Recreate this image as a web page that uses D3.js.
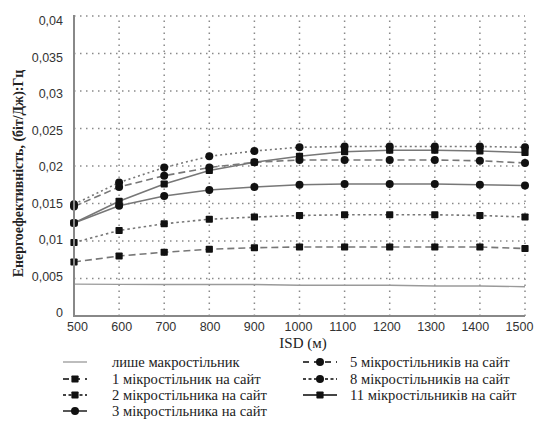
<!DOCTYPE html>
<html>
<head>
<meta charset="utf-8">
<script src="https://cdn.jsdelivr.net/npm/d3@7"></script>
<style>
  body { margin: 0; background: #fff; }
  svg { display: block; }
</style>
</head>
<body>
<div id="chart"></div>
<script>
// data
var isd = [500, 600, 700, 800, 900, 1000, 1100, 1200, 1300, 1400, 1500];
var macroOnly = [0.00425, 0.00423, 0.0042, 0.0042, 0.0042, 0.0041, 0.0041, 0.0041, 0.004, 0.004, 0.0039];
var micro1  = [0.0072, 0.0080, 0.0085, 0.0089, 0.0091, 0.0092, 0.0092, 0.0092, 0.0092, 0.0092, 0.0090];
var micro2  = [0.0098, 0.0114, 0.0123, 0.0129, 0.0132, 0.0134, 0.0135, 0.0135, 0.0135, 0.0134, 0.0132];
var micro3  = [0.0124, 0.0147, 0.0160, 0.0168, 0.0172, 0.0175, 0.0176, 0.0176, 0.0176, 0.0175, 0.0174];
var micro5  = [0.0146, 0.0172, 0.0187, 0.0198, 0.0205, 0.0208, 0.0208, 0.0208, 0.0208, 0.0207, 0.0204];
var micro8  = [0.0149, 0.0178, 0.0198, 0.0213, 0.0220, 0.0225, 0.0226, 0.0226, 0.0226, 0.0226, 0.0225];
var micro11 = [0.0124, 0.0153, 0.0176, 0.0194, 0.0205, 0.0213, 0.0219, 0.0221, 0.0221, 0.0220, 0.0218];

var yTicks = [0, 0.005, 0.01, 0.015, 0.02, 0.025, 0.03, 0.035, 0.04];
var yTickLabels = ["0", "0,005", "0,01", "0,015", "0,02", "0,025", "0,03", "0,035", "0,04"];

var seriesNames = ["лише макростільник", "1 мікростільник на сайт", "2 мікростільника на сайт",
  "3 мікростільника на сайт", "5 мікростільників на сайт", "8 мікростільників на сайт",
  "11 мікростільників на сайт"];
var seriesValues = [macroOnly, micro1, micro2, micro3, micro5, micro8, micro11];
var seriesMarker = ["none", "square", "square", "circle", "circle", "circle", "square"];
var seriesDash = ["none", "7,4", "2.5,3", "none", "7,4", "2,3", "none"];

var width = 536, height = 440;
var svg = d3.select("#chart").append("svg")
  .attr("width", width).attr("height", height);

var x = d3.scaleLinear().domain([500, 1500]).range([74, 525]);
var y = d3.scaleLinear().domain([0, 0.04]).range([316, 16]);
// tick labels sit on a slightly tighter spread than the grid in the original
var xLabel = d3.scaleLinear().domain([500, 1500]).range([77.5, 519.5]);
var yLabel = d3.scaleLinear().domain([0, 0.04]).range([313, 20.7]);

var gridColor = "#8a8a8a";

// grid
svg.append("g").selectAll("line")
  .data(yTicks.slice(1))
  .enter().append("line")
  .attr("x1", x(500)).attr("x2", x(1500))
  .attr("y1", d => y(d)).attr("y2", d => y(d))
  .attr("stroke", gridColor).attr("stroke-width", 1.5)
  .attr("stroke-dasharray", "1.5,4.5");

svg.append("g").selectAll("line")
  .data(isd.slice(1))
  .enter().append("line")
  .attr("x1", d => x(d)).attr("x2", d => x(d))
  .attr("y1", y(0)).attr("y2", y(0.04))
  .attr("stroke", gridColor).attr("stroke-width", 1.5)
  .attr("stroke-dasharray", "1.5,4.5");

// lines
var line = d3.line()
  .x((d, i) => x(isd[i]))
  .y(d => y(d));

svg.append("g").selectAll("path")
  .data(seriesValues)
  .enter().append("path")
  .attr("d", d => line(d))
  .attr("fill", "none")
  .attr("stroke", (d, i) => i == 0 ? "#9a9a9a" : "#777")
  .attr("stroke-width", (d, i) => i == 0 ? 1.3 : 1.6)
  .attr("stroke-dasharray", (d, i) => seriesDash[i]);

// markers
function drawMarker(g, type, cx, cy) {
  if (type == "square") {
    g.append("rect")
      .attr("x", cx - 3.6).attr("y", cy - 3.6)
      .attr("width", 7.2).attr("height", 7.2)
      .attr("rx", 0.8)
      .attr("fill", "#111");
  } else if (type == "circle") {
    g.append("circle")
      .attr("cx", cx).attr("cy", cy).attr("r", 4)
      .attr("fill", "#111");
  }
}

var markers = svg.append("g");
seriesValues.forEach(function(vals, s) {
  vals.forEach(function(v, i) {
    drawMarker(markers, seriesMarker[s], x(isd[i]), y(v));
  });
});

// axes
svg.append("line")
  .attr("x1", x(500)).attr("x2", x(500))
  .attr("y1", y(0.04) - 1).attr("y2", y(0))
  .attr("stroke", "#888").attr("stroke-width", 2);
svg.append("line")
  .attr("x1", x(500) - 1).attr("x2", x(1500))
  .attr("y1", y(0)).attr("y2", y(0))
  .attr("stroke", "#888").attr("stroke-width", 2);

var tickFont = "'Liberation Sans', Arial, sans-serif";

svg.append("g").selectAll("text")
  .data(yTicks)
  .enter().append("text")
  .attr("x", 63)
  .attr("y", d => yLabel(d))
  .attr("dy", "0.35em")
  .attr("text-anchor", "end")
  .style("font-family", tickFont)
  .style("font-size", "12.5px")
  .attr("fill", "#333")
  .text((d, i) => yTickLabels[i]);

svg.append("g").selectAll("text")
  .data(isd)
  .enter().append("text")
  .attr("x", d => xLabel(d))
  .attr("y", 327)
  .attr("dy", "0.35em")
  .attr("text-anchor", "middle")
  .style("font-family", tickFont)
  .style("font-size", "12.5px")
  .attr("fill", "#333")
  .text(d => d);

var serif = "'Liberation Serif', 'Times New Roman', serif";

// axis titles
svg.append("text")
  .attr("x", 303).attr("y", 343)
  .attr("dy", "0.35em")
  .attr("text-anchor", "middle")
  .style("font-family", serif)
  .style("font-size", "15px")
  .attr("fill", "#222")
  .text("ISD (м)");

svg.append("text")
  .attr("transform", "translate(18,173.5) rotate(-90)")
  .attr("dy", "0.35em")
  .attr("text-anchor", "middle")
  .style("font-family", serif)
  .style("font-size", "13.9px")
  .style("font-weight", "bold")
  .attr("fill", "#222")
  .text("Енергоефективність, (біт/Дж):Гц");

// legend
var legendPos = [
  {col: 0, row: 0}, {col: 0, row: 1}, {col: 0, row: 2}, {col: 0, row: 3},
  {col: 1, row: 0}, {col: 1, row: 1}, {col: 1, row: 2}
];
var colX = [[63, 87, 112], [303, 337, 350]];
var rowY = [362, 379, 395, 411];

var legend = svg.append("g");
seriesNames.forEach(function(name, i) {
  var p = legendPos[i];
  var c = colX[p.col];
  var ly = rowY[p.row];
  legend.append("line")
    .attr("x1", c[0]).attr("x2", c[1])
    .attr("y1", ly).attr("y2", ly)
    .attr("stroke", i == 0 ? "#9a9a9a" : "#444")
    .attr("stroke-width", i == 0 ? 1.3 : 1.8)
    .attr("stroke-dasharray", seriesDash[i] == "none" ? null : (seriesDash[i] == "7,4" ? "6,5" : "3,2.5"));
  drawMarker(legend, seriesMarker[i], (c[0] + c[1]) / 2, ly);
  legend.append("text")
    .attr("x", c[2]).attr("y", ly)
    .attr("dy", "0.33em")
    .style("font-family", serif)
    .style("font-size", "14.6px")
    .attr("fill", "#222")
    .text(name);
});
</script>
</body>
</html>
